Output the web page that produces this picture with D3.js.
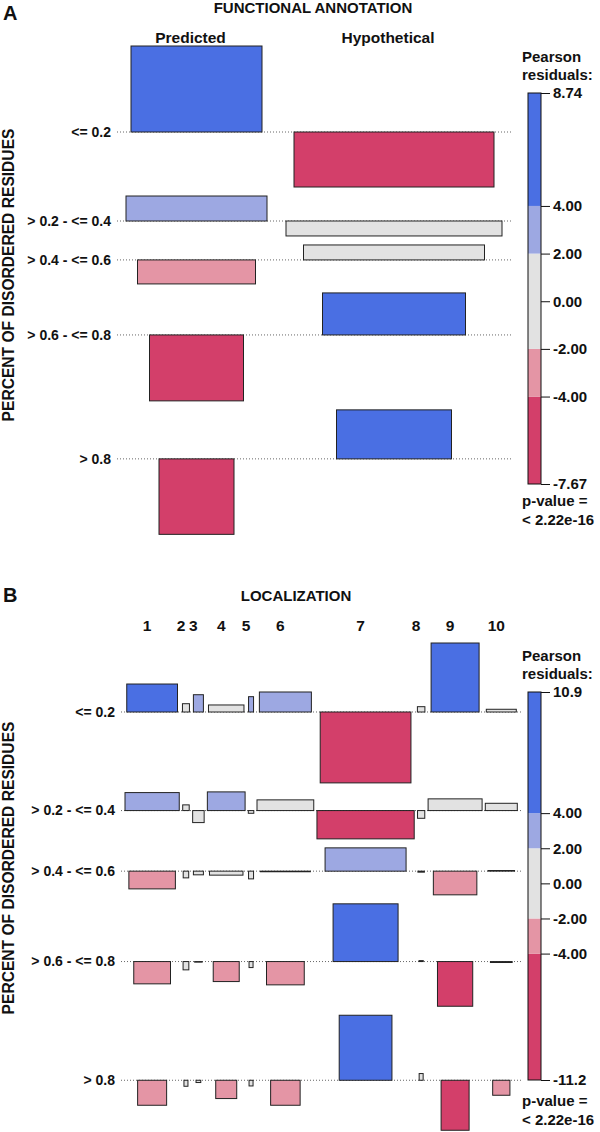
<!DOCTYPE html>
<html>
<head>
<meta charset="utf-8">
<script src="https://cdnjs.cloudflare.com/ajax/libs/d3/7.8.5/d3.min.js"></script>
<style>
  body { margin: 0; background: #fff; }
  text { font-family: "Liberation Sans", Arial, Helvetica, sans-serif; font-weight: bold; fill: #111; }
</style>
</head>
<body>
<div id="chart"></div>
<script>
// row categories (same for both panels)
var rowLabels = ["<= 0.2", "> 0.2 - <= 0.4", "> 0.4 - <= 0.6", "> 0.6 - <= 0.8", "> 0.8"];

// panel A: functional annotation
var funcCols = ["Predicted", "Hypothetical"];
// pearson residuals, [row][col]
var funcResid = [
  [8.74, -5.59],
  [2.54, -1.52],
  [-2.44, 1.52],
  [-6.70, 4.27],
  [-7.67, 4.98]
];
// sqrt(expected) -> bar width, [row][col]
var funcSqrtExp = [
  [13.1, 20.0],
  [14.1, 21.6],
  [11.8, 18.1],
  [9.4, 14.3],
  [7.5, 11.5]
];
var funcLegendRange = [-7.67, 8.74];

// panel B: localization
var locCols = ["1", "2", "3", "4", "5", "6", "7", "8", "9", "10"];
var locResid = [
  [4.42, 1.31, 2.73, 1.11, 2.42, 3.16, -11.2, 0.84, 10.9, 0.43],
  [2.84, 0.90, -1.90, 2.95, -0.43, 1.69, -4.47, -1.22, 1.85, 1.15],
  [-2.80, -1.06, -0.58, -0.63, -1.22, -0.05, 3.68, -0.16, -3.74, 0.10],
  [-3.52, -1.31, -0.08, -3.16, -0.95, -3.68, 9.12, 0.15, -7.06, -0.15],
  [-3.95, -0.95, -0.36, -2.89, -0.90, -3.95, 10.27, 1.06, -7.90, -2.37]
];
var locSqrtExp = [
  [20.3, 2.8, 4.0, 14.2, 2.0, 20.8, 36.3, 3.0, 19.2, 12.0],
  [21.7, 2.6, 4.6, 15.1, 2.2, 22.7, 38.9, 2.9, 21.6, 12.8],
  [18.6, 2.2, 4.0, 13.4, 2.0, 20.0, 32.4, 2.6, 17.4, 10.6],
  [14.7, 2.3, 3.0, 10.4, 1.6, 15.1, 26.0, 1.7, 14.1, 8.7],
  [11.6, 1.6, 1.9, 8.4, 1.6, 11.8, 21.1, 1.6, 11.2, 6.9]
];
var locLegendRange = [-11.2, 10.9];

// shading breaks and colours (vcd hcl diverging)
var shadeBreaks = [-4, -2, 2, 4];
var shadeColors = ["#D33F6A", "#E495A5", "#E2E2E2", "#9DA8E2", "#4A6FE3"];
var pValueText = ["p-value =", "< 2.22e-16"];

(function assocCharts() {

  var width = 600, height = 1132;

  var svg = d3.select("#chart").append("svg")
    .attr("width", width)
    .attr("height", height)
    .attr("viewBox", [0, 0, width, height]);

  var fill = d3.scaleThreshold().domain(shadeBreaks).range(shadeColors);

  // plain hyphen minus for the legend labels
  var loc = d3.formatLocale({decimal: ".", thousands: ",", grouping: [3], currency: ["", ""], minus: "-"});
  var f2 = loc.format(".2f"), f3 = loc.format(".3");

  function panel(o) {
    var g = svg.append("g");
    var nCols = o.cols.length;

    // residual -> height, sqrt(expected) -> width
    var h = d3.scaleLinear().domain([0, 1]).range([0, o.k]);
    var w = d3.scaleLinear().domain([0, 1]).range([0, o.wk]);

    // column slots: widest bar in each column
    var colMax = d3.range(nCols).map(function(j) {
      return d3.max(o.sqrtExp, function(r) { return w(r[j]); });
    });
    var colX = [], x0 = o.left;
    colMax.forEach(function(cw) { colX.push(x0); x0 += cw + o.colGap; });
    var right = x0 - o.colGap;
    var colC = colX.map(function(x, j) { return x + colMax[j] / 2; });

    // row slots: tallest positive + tallest negative bar
    var base = [], y0 = o.top;
    o.resid.forEach(function(row) {
      var up = d3.max(row, function(v) { return h(Math.max(v, 0)); });
      var dn = d3.max(row, function(v) { return h(Math.max(-v, 0)); });
      base.push(y0 + up);
      y0 += up + dn + o.rowGap;
    });

    // panel letter, title
    g.append("text").attr("x", 3).attr("y", o.letterY).style("font-size", "20px").text(o.letter);
    g.append("text").attr("x", o.titleX).attr("y", o.titleY)
      .attr("text-anchor", "middle").style("font-size", "15px").text(o.title);

    // column labels
    g.selectAll(".clab").data(o.cols).enter().append("text")
      .attr("x", function(d, j) { return colC[j] + o.labShift; })
      .attr("y", o.colLabY)
      .attr("text-anchor", "middle")
      .style("font-size", "15.5px")
      .text(function(d) { return d; });

    // y axis title
    g.append("text")
      .attr("transform", "translate(14," + o.yTitleY + ") rotate(-90)")
      .attr("text-anchor", "middle")
      .style("font-size", "15.6px")
      .text("PERCENT OF DISORDERED RESIDUES");

    // dotted baselines and row labels
    g.selectAll(".base").data(base).enter().append("line")
      .attr("x1", o.left - o.pad).attr("x2", right + o.pad)
      .attr("y1", function(d) { return d; }).attr("y2", function(d) { return d; })
      .attr("stroke", "#666").attr("stroke-width", 1).attr("stroke-dasharray", "1,2");

    g.selectAll(".rlab").data(rowLabels).enter().append("text")
      .attr("x", o.left - o.pad - 6)
      .attr("y", function(d, i) { return base[i]; })
      .attr("dy", "0.35em")
      .attr("text-anchor", "end")
      .style("font-size", "14px")
      .text(function(d) { return d; });

    // cells
    var cells = [];
    o.resid.forEach(function(row, i) {
      row.forEach(function(v, j) { cells.push({r: i, c: j, v: v, s: o.sqrtExp[i][j]}); });
    });
    g.selectAll(".cell").data(cells).enter().append("rect")
      .attr("x", function(d) { return colC[d.c] - w(d.s) / 2; })
      .attr("width", function(d) { return w(d.s); })
      .attr("y", function(d) { return d.v > 0 ? base[d.r] - h(d.v) : base[d.r]; })
      .attr("height", function(d) { return Math.max(h(Math.abs(d.v)), 0.6); })
      .attr("fill", function(d) { return fill(d.v); })
      .attr("stroke", "#222").attr("stroke-width", 1);

    // colour legend
    var ly = d3.scaleLinear().domain(o.legendRange).range([o.legBottom, o.legTop]);
    var stops = [o.legendRange[0]].concat(shadeBreaks, [o.legendRange[1]]);
    g.selectAll(".seg").data(d3.range(stops.length - 1)).enter().append("rect")
      .attr("x", 528).attr("width", 13)
      .attr("y", function(i) { return ly(stops[i + 1]); })
      .attr("height", function(i) { return ly(stops[i]) - ly(stops[i + 1]); })
      .attr("fill", function(i) { return shadeColors[i]; });
    g.append("rect").attr("x", 528).attr("width", 13)
      .attr("y", o.legTop).attr("height", o.legBottom - o.legTop)
      .attr("fill", "none").attr("stroke", "#111").attr("stroke-width", 1);

    var ax = g.append("g").attr("transform", "translate(541,0)")
      .call(d3.axisRight(ly)
        .tickValues([o.legendRange[1]].concat(shadeBreaks.slice().reverse(), [0], [o.legendRange[0]]))
        .tickSize(9).tickPadding(3)
        .tickFormat(function(d) {
          return (d === o.legendRange[0] || d === o.legendRange[1]) ? f3(d) : f2(d);
        }));
    ax.select(".domain").remove();
    ax.selectAll("line").attr("stroke", "#111");
    ax.selectAll("text").attr("fill", "#111").style("font-size", "15px")
      .style("font-family", "'Liberation Sans', Arial, sans-serif").style("font-weight", "bold");

    g.append("text").attr("x", 522).attr("y", o.legTop - 31).style("font-size", "15px").text("Pearson");
    g.append("text").attr("x", 522).attr("y", o.legTop - 13).style("font-size", "15px").text("residuals:");
    g.selectAll(".pv").data(pValueText).enter().append("text")
      .attr("x", 522)
      .attr("y", function(d, i) { return o.pY + i * 19; })
      .style("font-size", "15px")
      .text(function(d) { return d; });
  }

  panel({
    letter: "A", letterY: 20, title: "FUNCTIONAL ANNOTATION", titleX: 313, titleY: 13,
    cols: funcCols, resid: funcResid, sqrtExp: funcSqrtExp,
    left: 126, top: 46, colGap: 19, rowGap: 9, k: 9.84, wk: 10, pad: 9,
    colLabY: 43, labShift: -6, yTitleY: 275,
    legendRange: funcLegendRange, legTop: 93, legBottom: 484, pY: 506
  });

  panel({
    letter: "B", letterY: 602, title: "LOCALIZATION", titleX: 296, titleY: 601,
    cols: locCols, resid: locResid, sqrtExp: locSqrtExp,
    left: 125, top: 643, colGap: 3.2, rowGap: 9, k: 6.33, wk: 2.5, pad: 4,
    colLabY: 631, labShift: -5, yTitleY: 868,
    legendRange: locLegendRange, legTop: 692, legBottom: 1080, pY: 1106
  });

})();
</script>
</body>
</html>
